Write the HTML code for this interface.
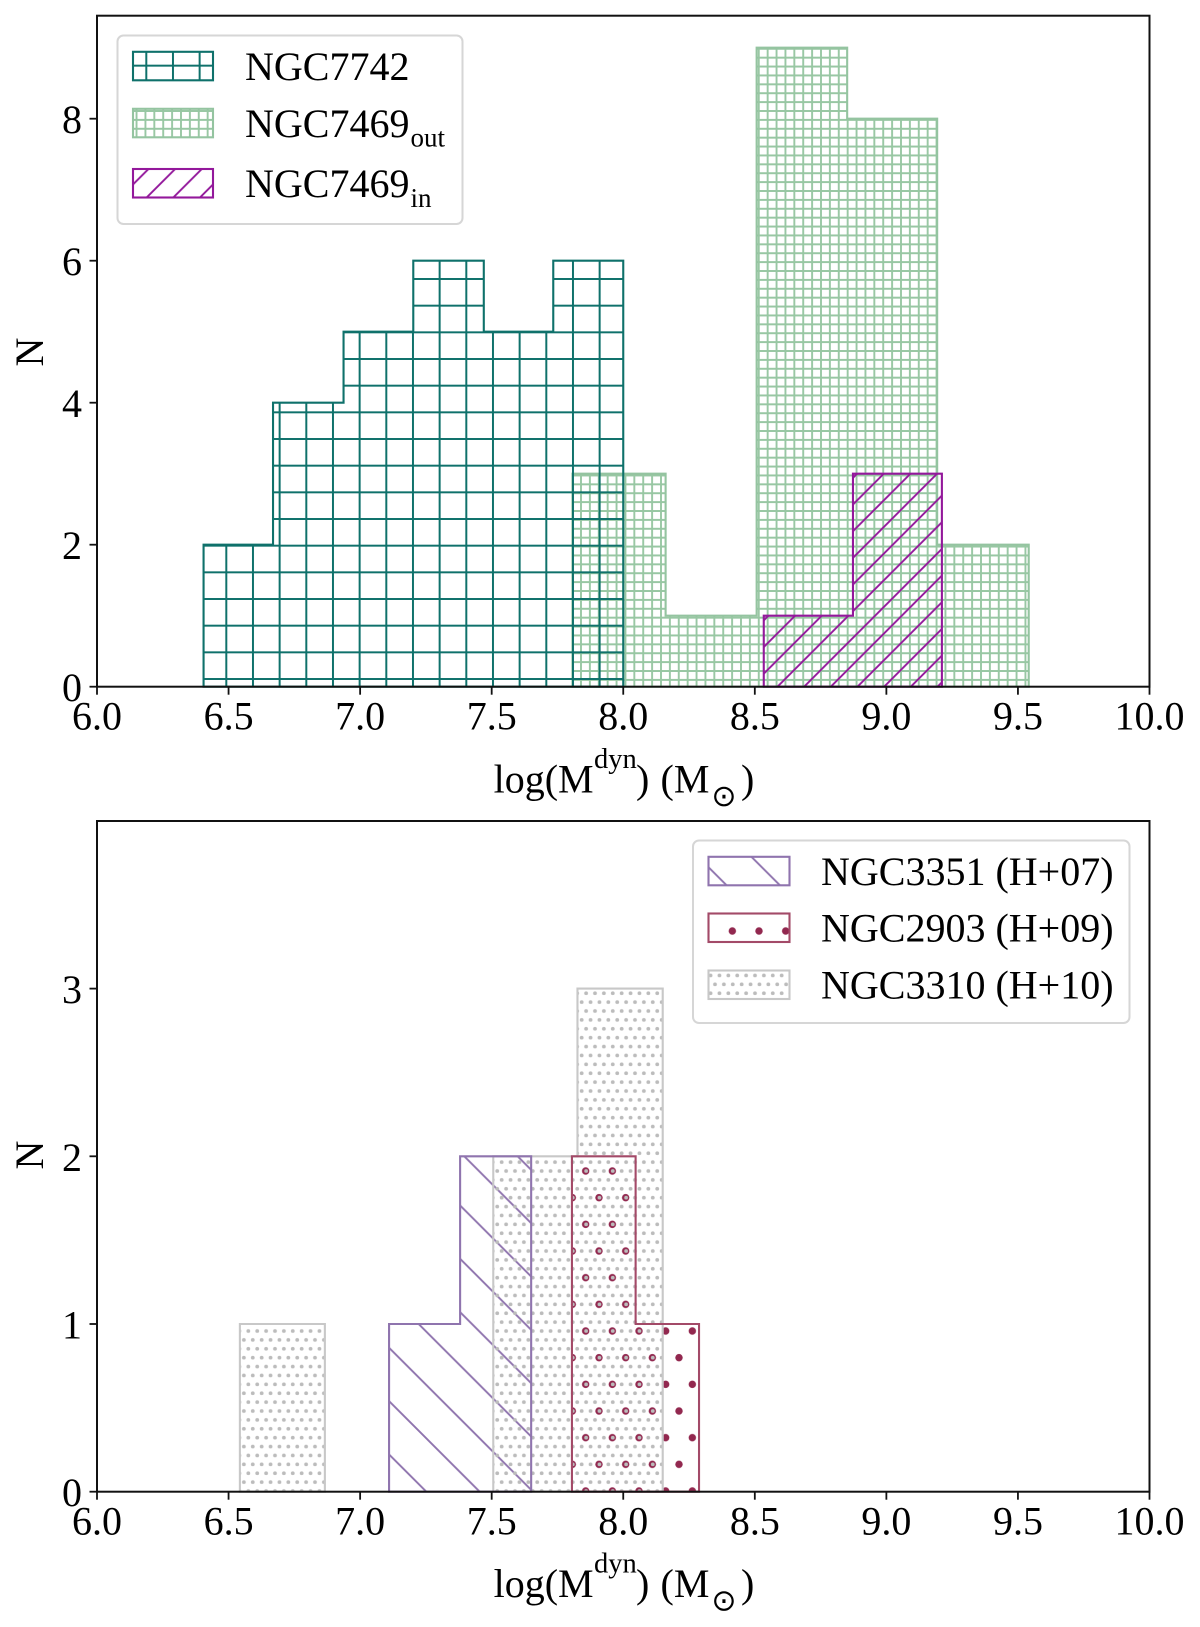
<!DOCTYPE html>
<html lang="en">
<head>
<meta charset="utf-8">
<title>Dynamical mass histograms</title>
<style>
html,body{margin:0;padding:0;background:#fff;}
svg{display:block;filter:blur(0.35px);}
text{font-family:"Liberation Serif",serif;fill:#000;}
.lg{font-size:40px;}
.sub{font-size:27px;}
.xl{font-size:40px;}
.sup{font-size:28.5px;}
.odot{font-family:"DejaVu Sans",sans-serif;font-size:30px;}
</style>
</head>
<body>
<svg id="fig" xmlns="http://www.w3.org/2000/svg" width="1200" height="1627" viewBox="0 0 1200 1627">
<defs>
<pattern id="h-teal" patternUnits="userSpaceOnUse" x="212.97" y="665.67" width="26.667" height="26.667">
<path d="M13.333 0V26.667M0 13.333H26.667" stroke="#0f716b" stroke-width="2" fill="none"/>
</pattern>
<pattern id="h-green" patternUnits="userSpaceOnUse" x="763.22" y="53.22" width="8.889" height="8.889">
<path d="M4.444 0V8.889M0 4.444H8.889" stroke="#98c7a3" stroke-width="1.9" fill="none"/>
</pattern>
<pattern id="h-magenta" patternUnits="userSpaceOnUse" x="0" y="24.13" width="26.667" height="26.667">
<path d="M-2 28.667L28.667 -2M-2 2L2 -2M24.667 28.667L28.667 24.667" stroke="#93189b" stroke-width="1.9" fill="none"/>
</pattern>
<pattern id="h-purple" patternUnits="userSpaceOnUse" x="1.3" y="0" width="53.333" height="53.333">
<path d="M-2 -2L55.333 55.333M-2 51.333L2 55.333M51.333 -2L55.333 2" stroke="#8f74ae" stroke-width="1.9" fill="none"/>
</pattern>
<pattern id="h-red" patternUnits="userSpaceOnUse" x="572.33" y="1157.67" width="26.667" height="53.333">
<circle cx="13.333" cy="13.333" r="3.7" fill="#92284f"/>
<circle cx="26.667" cy="40" r="3.7" fill="#92284f"/>
<circle cx="0" cy="40" r="3.7" fill="#92284f"/>
</pattern>
<pattern id="h-gray" patternUnits="userSpaceOnUse" x="246.11" y="1328.78" width="8.889" height="17.778">
<circle cx="2.222" cy="2.222" r="1.9" fill="#bcbcbc"/>
<circle cx="6.667" cy="11.111" r="1.9" fill="#bcbcbc"/>
</pattern>
</defs>

<g id="top-marks"></g>
<g id="bottom-marks"></g>
<g id="top-axes"></g>
<g id="bottom-axes"></g>

<text x="43" y="352" transform="rotate(-90 43 352)" text-anchor="middle" class="xl">N</text>
<text x="43" y="1155" transform="rotate(-90 43 1155)" text-anchor="middle" class="xl">N</text>

<g>
<text x="493.6" y="792.5" class="xl">log(M</text>
<text x="594" y="768" class="sup">dyn</text>
<text x="636" y="792.5" class="xl">)</text>
<text x="660.5" y="792.5" class="xl">(M</text>
<text x="724" y="806" text-anchor="middle" class="odot">⊙</text>
<text x="741" y="792.5" class="xl">)</text>
</g>
<g>
<text x="493.6" y="1597" class="xl">log(M</text>
<text x="594" y="1572.5" class="sup">dyn</text>
<text x="636" y="1597" class="xl">)</text>
<text x="660.5" y="1597" class="xl">(M</text>
<text x="724" y="1610.5" text-anchor="middle" class="odot">⊙</text>
<text x="741" y="1597" class="xl">)</text>
</g>

<g>
<rect x="117.5" y="35.5" width="345" height="188.5" rx="6" fill="#fff" fill-opacity="0.85" stroke="#d6d6d6" stroke-width="2"/>
<g>
<rect x="133" y="51.8" width="80" height="28.5" fill="url(#h-teal)" stroke="#0f716b" stroke-width="2.1"/>
<text x="245" y="80" class="lg">NGC7742</text>
</g>
<g>
<rect x="133" y="108.8" width="80" height="28.5" fill="url(#h-green)" stroke="#94c4a0" stroke-width="2.1"/>
<text x="245" y="137" class="lg">NGC7469</text>
<text x="410.5" y="146.7" class="sub">out</text>
</g>
<g>
<rect x="133" y="169" width="80" height="28.5" fill="url(#h-magenta)" stroke="#93189b" stroke-width="2.1"/>
<text x="245" y="197" class="lg">NGC7469</text>
<text x="410.5" y="207" class="sub">in</text>
</g>
</g>

<g>
<rect x="693" y="840.5" width="436.5" height="182.5" rx="6" fill="#fff" fill-opacity="0.85" stroke="#d6d6d6" stroke-width="2"/>
<g>
<rect x="708.5" y="856.8" width="81" height="28.5" fill="url(#h-purple)" stroke="#8f74ae" stroke-width="2.1"/>
<text x="821" y="885" class="lg">NGC3351 (H+07)</text>
</g>
<g>
<rect x="708.5" y="913.5" width="81" height="28.5" fill="url(#h-red)" stroke="#a34a68" stroke-width="2.1"/>
<text x="821" y="941.7" class="lg">NGC2903 (H+09)</text>
</g>
<g>
<rect x="708.5" y="970.5" width="81" height="28.5" fill="url(#h-gray)" stroke="#c8c8c8" stroke-width="2.1"/>
<text x="821" y="998.3" class="lg">NGC3310 (H+10)</text>
</g>
</g>
</svg>

<script>
// Top panel data
const ngc7742Edges = [6.405, 6.669, 6.937, 7.202, 7.47, 7.734, 8.00];
const ngc7742Counts = [2, 4, 5, 6, 5, 6];
const ngc7469OutEdges = [7.807, 8.161, 8.507, 8.851, 9.193, 9.541];
const ngc7469OutCounts = [3, 1, 9, 8, 2];
const ngc7469InEdges = [8.534, 8.873, 9.211];
const ngc7469InCounts = [1, 3];

// Bottom panel data
const ngc3351Edges = [7.11, 7.38, 7.65];
const ngc3351Counts = [1, 2];
const ngc2903Edges = [7.805, 8.047, 8.288];
const ngc2903Counts = [2, 1];
const ngc3310LowEdges = [6.543, 6.866];
const ngc3310LowCounts = [1];
const ngc3310HighEdges = [7.506, 7.826, 8.15];
const ngc3310HighCounts = [2, 3];

// Tick labels
const xTickLabels = ['6.0', '6.5', '7.0', '7.5', '8.0', '8.5', '9.0', '9.5', '10.0'];
const topYTickLabels = ['0', '2', '4', '6', '8'];
const bottomYTickLabels = ['0', '1', '2', '3'];

const NS = 'http://www.w3.org/2000/svg';
const xMin = 6, xMax = 10;
const plotLeft = 97, plotRight = 1149.5;
function xScale(v) { return plotLeft + (v - xMin) / (xMax - xMin) * (plotRight - plotLeft); }
function yScaleTop(v) { return 686.7 - v * 71; }
function yScaleBottom(v) { return 1491.7 - v * 167.7; }

function make(tag, attrs, parent) {
  const el = document.createElementNS(NS, tag);
  for (const k in attrs) el.setAttribute(k, attrs[k]);
  parent.appendChild(el);
  return el;
}

function stepPath(edges, counts, y) {
  let d = 'M' + xScale(edges[0]).toFixed(2) + ' ' + y(0).toFixed(2);
  counts.forEach(function (c, i) {
    d += 'L' + xScale(edges[i]).toFixed(2) + ' ' + y(c).toFixed(2);
    d += 'L' + xScale(edges[i + 1]).toFixed(2) + ' ' + y(c).toFixed(2);
  });
  d += 'L' + xScale(edges[edges.length - 1]).toFixed(2) + ' ' + y(0).toFixed(2) + 'Z';
  return d;
}

function drawHatch(parent, edges, counts, y, hatch, name) {
  const el = make('path', { d: stepPath(edges, counts, y), fill: 'url(#' + hatch + ')', stroke: 'none' }, parent);
  
  
}

function drawOutline(parent, edges, counts, y, color, name) {
  const el = make('path', { d: stepPath(edges, counts, y), fill: 'none', stroke: color, 'stroke-width': 2.1, 'stroke-linejoin': 'miter' }, parent);
  
  
}

function drawAxes(parent, y, yTop, yLabels) {
  const ink = '#111';
  const frame = make('rect', {
    x: plotLeft, y: yTop, width: plotRight - plotLeft, height: y(0) - yTop,
    fill: 'none', stroke: ink, 'stroke-width': 2
  }, parent);
  
  
  xTickLabels.forEach(function (label) {
    const px = xScale(parseFloat(label));
    const tick = make('line', { x1: px, x2: px, y1: y(0), y2: y(0) + 8, stroke: ink, 'stroke-width': 1.8 }, parent);
    
    
    const t = make('text', { x: px, y: y(0) + 42.8, 'text-anchor': 'middle', 'font-size': '40px' }, parent);
    t.textContent = label;
    
    
  });
  yLabels.forEach(function (label) {
    const py = y(parseFloat(label));
    const tick = make('line', { x1: plotLeft - 7.5, x2: plotLeft, y1: py, y2: py, stroke: ink, 'stroke-width': 1.8 }, parent);
    
    
    const t = make('text', { x: 82, y: py + 14.5, 'text-anchor': 'end', 'font-size': '40px' }, parent);
    t.textContent = label;
    
    
  });
}

const topMarks = document.getElementById('top-marks');
drawHatch(topMarks, ngc7469OutEdges, ngc7469OutCounts, yScaleTop, 'h-green', 'ngc7469-out');
drawOutline(topMarks, ngc7469OutEdges, ngc7469OutCounts, yScaleTop, '#94c4a0', 'ngc7469-out');
drawHatch(topMarks, ngc7742Edges, ngc7742Counts, yScaleTop, 'h-teal', 'ngc7742');
drawOutline(topMarks, ngc7742Edges, ngc7742Counts, yScaleTop, '#0f716b', 'ngc7742');
drawHatch(topMarks, ngc7469InEdges, ngc7469InCounts, yScaleTop, 'h-magenta', 'ngc7469-in');
drawOutline(topMarks, ngc7469InEdges, ngc7469InCounts, yScaleTop, '#93189b', 'ngc7469-in');

const bottomMarks = document.getElementById('bottom-marks');
drawHatch(bottomMarks, ngc3351Edges, ngc3351Counts, yScaleBottom, 'h-purple', 'ngc3351');
drawHatch(bottomMarks, ngc2903Edges, ngc2903Counts, yScaleBottom, 'h-red', 'ngc2903');
drawHatch(bottomMarks, ngc3310LowEdges, ngc3310LowCounts, yScaleBottom, 'h-gray', 'ngc3310-low');
drawHatch(bottomMarks, ngc3310HighEdges, ngc3310HighCounts, yScaleBottom, 'h-gray', 'ngc3310-high');
drawOutline(bottomMarks, ngc3310LowEdges, ngc3310LowCounts, yScaleBottom, '#c8c8c8', 'ngc3310-low');
drawOutline(bottomMarks, ngc3310HighEdges, ngc3310HighCounts, yScaleBottom, '#c8c8c8', 'ngc3310-high');
drawOutline(bottomMarks, ngc3351Edges, ngc3351Counts, yScaleBottom, '#8f74ae', 'ngc3351');
drawOutline(bottomMarks, ngc2903Edges, ngc2903Counts, yScaleBottom, '#a34a68', 'ngc2903');

drawAxes(document.getElementById('top-axes'), yScaleTop, 15.7, topYTickLabels);
drawAxes(document.getElementById('bottom-axes'), yScaleBottom, 821, bottomYTickLabels);
</script>
</body>
</html>
